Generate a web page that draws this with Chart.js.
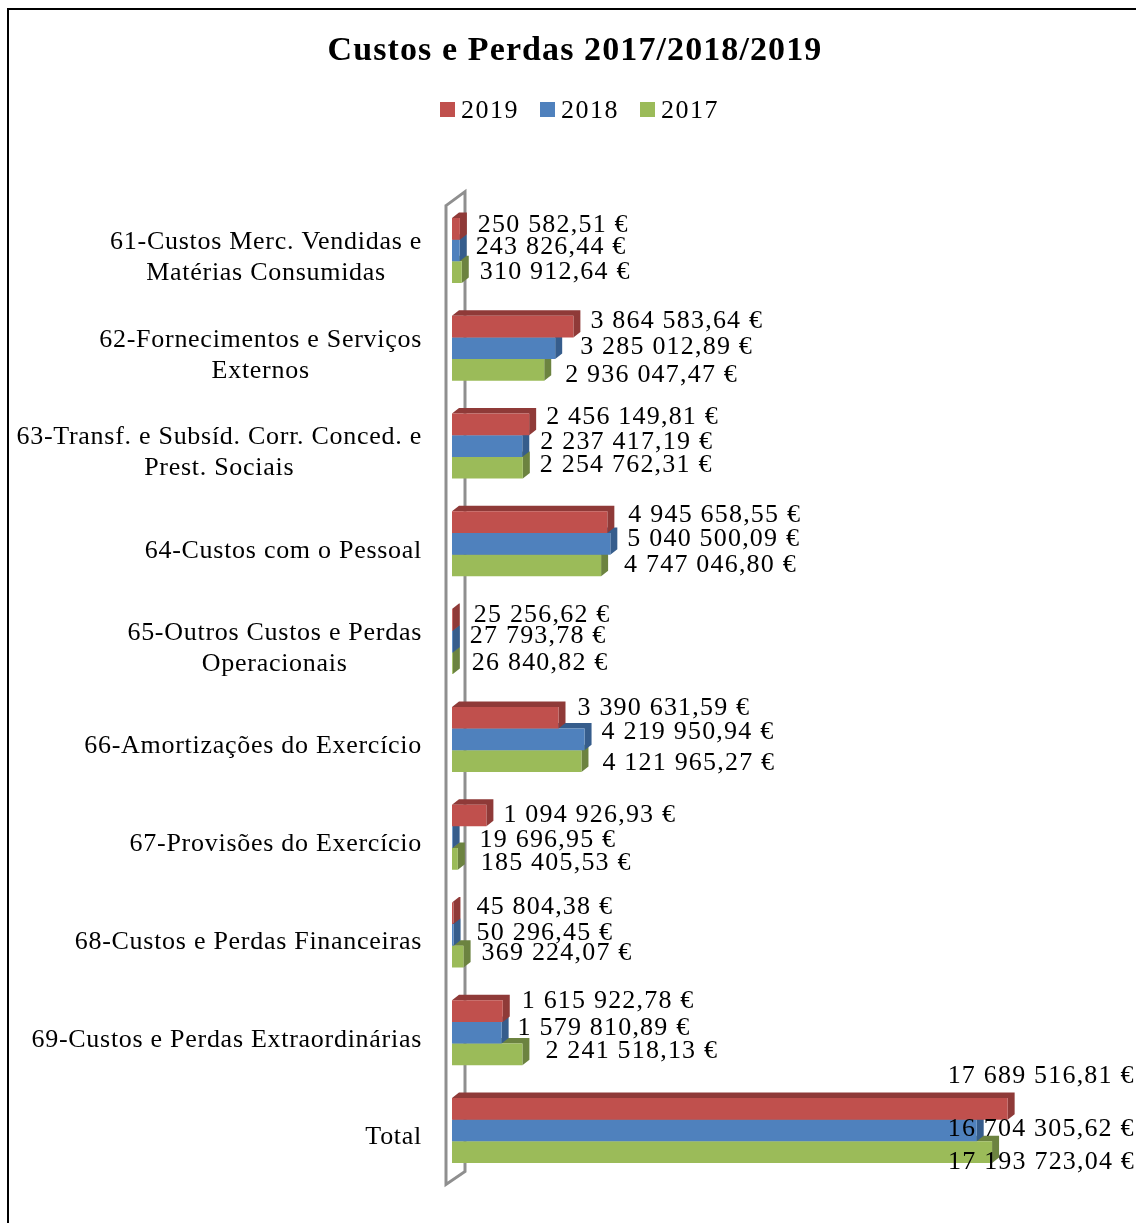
<!DOCTYPE html>
<html>
<head>
<meta charset="utf-8">
<title>Custos e Perdas 2017/2018/2019</title>
<script src="https://cdn.jsdelivr.net/npm/chart.js@4/dist/chart.umd.min.js"></script>
<style>
    html, body { margin: 0; padding: 0; background: #fff; overflow: hidden; }
    #wrap { position: relative; width: 1136px; height: 1223px; }
    #frame { position: absolute; left: 7px; top: 8px; right: 0; bottom: 0; border-left: 2px solid #000; border-top: 2px solid #000; }
    canvas { position: absolute; left: 0; top: 0; }
</style>
</head>
<body>
<div id="wrap">
    <div id="frame"></div>
    <canvas id="costChart" width="1136" height="1223"></canvas>
</div>
<script>
const categories = [
    ['61-Custos Merc. Vendidas e', 'Matérias Consumidas'],
    ['62-Fornecimentos e Serviços', 'Externos'],
    ['63-Transf. e Subsíd. Corr. Conced. e', 'Prest. Sociais'],
    ['64-Custos com o Pessoal'],
    ['65-Outros Custos e Perdas', 'Operacionais'],
    ['66-Amortizações do Exercício'],
    ['67-Provisões do Exercício'],
    ['68-Custos e Perdas Financeiras'],
    ['69-Custos e Perdas Extraordinárias'],
    ['Total']
];
const values2019 = [250582.51, 3864583.64, 2456149.81, 4945658.55, 25256.62, 3390631.59, 1094926.93, 45804.38, 1615922.78, 17689516.81];
const values2018 = [243826.44, 3285012.89, 2237417.19, 5040500.09, 27793.78, 4219950.94, 19696.95, 50296.45, 1579810.89, 16704305.62];
const values2017 = [310912.64, 2936047.47, 2254762.31, 4747046.80, 26840.82, 4121965.27, 185405.53, 369224.07, 2241518.13, 17193723.04];

// the source chart places its value labels by hand, so each one gets a nudge [dx, dy] from its bar
const labelNudges = [
    [[18, -4], [16, -3.5], [18, 0]],
    [[17, -5], [25, -1], [21, 5]],
    [[17, -7], [18, -4], [17, -3]],
    [[21, -7], [17, -5], [23, 0]],
    [[21, -5], [17, -5], [19, 0]],
    [[19, -10], [17, -7], [21, 2]],
    [[17, 0], [27, 3], [23, 4]],
    [[23, -6], [23, -2], [18, -3]],
    [[19, -10], [16, -5], [23, -3]],
    [[-60, -33], [-29, -1], [-44, 10]]
];

const TEXT_FONT = '26px "Liberation Serif"';
const TEXT_COLOR = '#000';
const DEPTH_X = 7;
const DEPTH_Y = 5.5;

function formatEuro(v) {
    const parts = v.toFixed(2).split('.');
    return parts[0].replace(/\B(?=(\d{3})+$)/g, ' ') + ',' + parts[1] + ' €';
}

const sideColors = ['#8f3a38', '#365d8c', '#6c8340'];

const extrasPlugin = {
    id: 'extras',
    // Liberation is narrower than the original face, spacing makes up the widths
    beforeDraw(chart) {
        chart.ctx.letterSpacing = '1.1px';
    },
    // thin 3D wall behind the bars
    beforeDatasetsDraw(chart) {
        const ctx = chart.ctx;
        const area = chart.chartArea;
        const zero = chart.scales.x.getPixelForValue(0);
        ctx.save();
        ctx.strokeStyle = '#8f8f8f';
        ctx.lineWidth = 3;
        ctx.beginPath();
        ctx.moveTo(zero - 6, area.top + 4);
        ctx.lineTo(zero + 13, area.top - 10);
        ctx.lineTo(zero + 13, area.bottom - 8);
        ctx.lineTo(zero - 6, area.bottom + 5);
        ctx.closePath();
        ctx.stroke();
        ctx.restore();
    },
    // top and right faces, drawn just before the front faces of the same series
    beforeDatasetDraw(chart, args) {
        const ctx = chart.ctx;
        ctx.save();
        ctx.fillStyle = sideColors[args.index];
        args.meta.data.forEach(bar => {
            const top = bar.y - bar.height / 2;
            const bottom = bar.y + bar.height / 2;
            ctx.beginPath();
            ctx.moveTo(bar.base, top);
            ctx.lineTo(bar.base + DEPTH_X, top - DEPTH_Y);
            ctx.lineTo(bar.x + DEPTH_X, top - DEPTH_Y);
            ctx.lineTo(bar.x + DEPTH_X, bottom - DEPTH_Y);
            ctx.lineTo(bar.x, bottom);
            ctx.lineTo(bar.x, top);
            ctx.closePath();
            ctx.fill();
        });
        ctx.restore();
    },
    afterDatasetsDraw(chart) {
        const ctx = chart.ctx;
        ctx.save();
        ctx.font = TEXT_FONT;
        ctx.fillStyle = TEXT_COLOR;
        ctx.textBaseline = 'middle';

        // value labels
        ctx.letterSpacing = '1.2px';
        ctx.textAlign = 'left';
        chart.data.datasets.forEach((ds, d) => {
            chart.getDatasetMeta(d).data.forEach((bar, i) => {
                const nudge = labelNudges[i][d];
                ctx.fillText(formatEuro(ds.data[i]), bar.x + nudge[0], bar.y + nudge[1]);
            });
        });

        // category labels: block is right aligned, its lines are centred
        ctx.letterSpacing = '0.72px';
        const yScale = chart.scales.y;
        const blockRight = yScale.right - 30;
        ctx.textAlign = 'center';
        categories.forEach((lines, i) => {
            const blockWidth = Math.max(...lines.map(l => ctx.measureText(l).width));
            const cy = yScale.getPixelForTick(i) + 7;
            lines.forEach((line, n) => {
                ctx.fillText(line, blockRight - blockWidth / 2, cy + (n - (lines.length - 1) / 2) * 31);
            });
        });

        // legend, the stock one keeps too wide a gap between swatch and text
        ctx.letterSpacing = '1.5px';
        ctx.textAlign = 'left';
        chart.data.datasets.forEach((ds, d) => {
            const x = 440 + d * 100;
            ctx.fillStyle = ds.backgroundColor;
            ctx.fillRect(x, 102, 15, 15);
            ctx.fillStyle = TEXT_COLOR;
            ctx.fillText(ds.label, x + 21, 111);
        });
        ctx.restore();
    }
};

new Chart(document.getElementById('costChart'), {
    type: 'bar',
    plugins: [extrasPlugin],
    data: {
        labels: categories,
        datasets: [
            { label: '2019', data: values2019, backgroundColor: '#C0504D' },
            { label: '2018', data: values2018, backgroundColor: '#4F81BD' },
            { label: '2017', data: values2017, backgroundColor: '#9BBB59' }
        ]
    },
    options: {
        indexAxis: 'y',
        responsive: false,
        animation: false,
        layout: { padding: { left: 14, right: 0, top: 0, bottom: 43.6 } },
        datasets: { bar: { categoryPercentage: 0.665, barPercentage: 1 } },
        scales: {
            x: { display: false, min: 0, max: 21776000 },
            y: {
                grid: { display: false },
                border: { display: false },
                ticks: { display: false },
                afterFit(scale) { scale.width = 438; }
            }
        },
        plugins: {
            legend: { display: false },
            tooltip: { enabled: false },
            title: {
                display: true,
                text: 'Custos e Perdas 2017/2018/2019',
                color: TEXT_COLOR,
                font: { family: 'Liberation Serif', size: 34, weight: 'bold' },
                padding: { top: 30.6, bottom: 130.2 }
            }
        }
    }
});
</script>
</body>
</html>
